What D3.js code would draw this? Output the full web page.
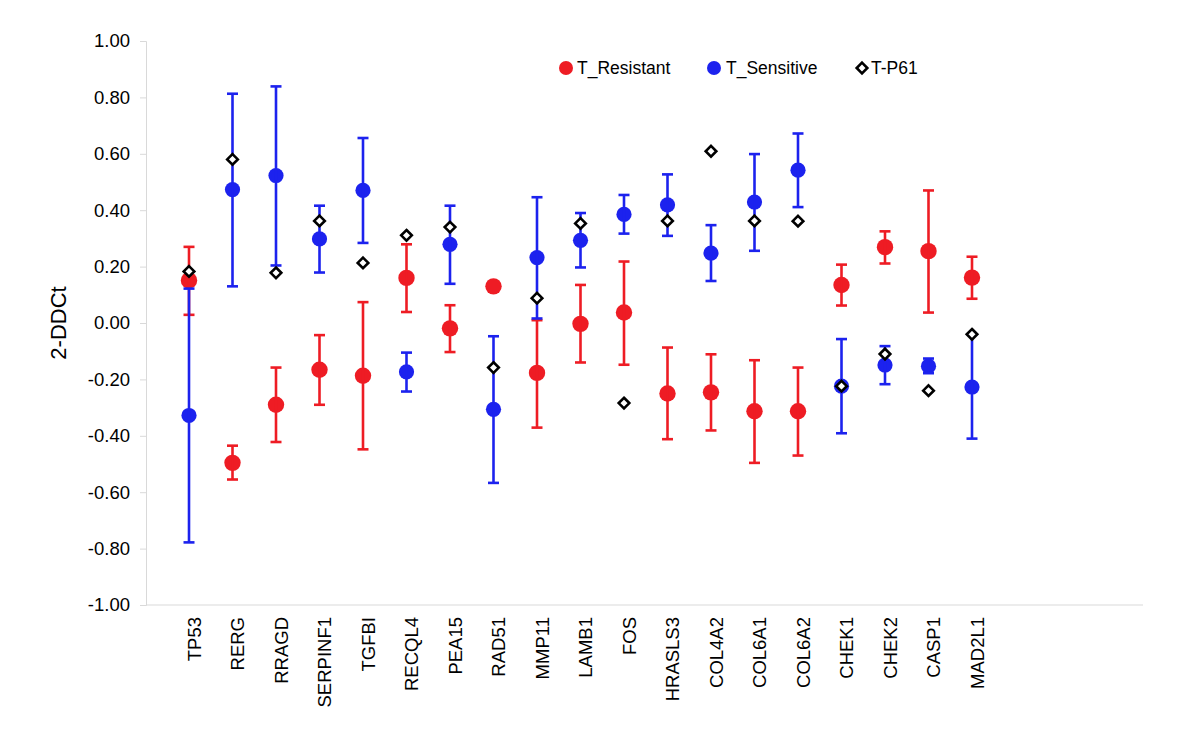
<!DOCTYPE html>
<html>
<head>
<meta charset="utf-8">
<script src="https://cdn.jsdelivr.net/npm/d3@7"></script>
<style>
  html, body { margin: 0; padding: 0; background: #ffffff; }
  svg { display: block; font-family: "Liberation Sans", Arial, Helvetica, sans-serif; }
</style>
</head>
<body>
<svg id="chart" width="1200" height="750"></svg>
<script>
const categories = ["TP53","RERG","RRAGD","SERPINF1","TGFBI","RECQL4","PEA15","RAD51","MMP11","LAMB1","FOS","HRASLS3","COL4A2","COL6A1","COL6A2","CHEK1","CHEK2","CASP1","MAD2L1"];

// T_Resistant: mean, upper and lower ends of error bars
const resistant     = [0.151,-0.496,-0.290,-0.166,-0.187,0.160,-0.019,0.130,-0.177,-0.003,0.037,-0.250,-0.246,-0.313,-0.313,0.135,0.269,0.255,0.161];
const resistantHigh = [0.270,-0.435,-0.158,-0.043,0.074,0.279,0.063,null,0.010,0.135,0.218,-0.087,-0.111,-0.132,-0.158,0.207,0.325,0.470,0.235];
const resistantLow  = [0.029,-0.555,-0.422,-0.290,-0.448,0.039,-0.103,null,-0.371,-0.140,-0.148,-0.412,-0.381,-0.496,-0.470,0.062,0.211,0.037,0.086];

// T_Sensitive: mean, upper and lower ends of error bars
const sensitive     = [-0.328,0.473,0.523,0.298,0.470,-0.173,0.279,-0.306,0.232,0.293,0.385,0.419,0.248,0.429,0.542,-0.224,-0.149,-0.153,-0.227];
const sensitiveHigh = [0.122,0.813,0.839,0.416,0.656,-0.105,0.416,-0.047,0.446,0.390,0.454,0.527,0.347,0.599,0.672,-0.057,-0.082,-0.126,-0.040];
const sensitiveLow  = [-0.778,0.130,0.204,0.179,0.284,-0.243,0.139,-0.567,0.016,0.197,0.317,0.309,0.149,0.256,0.411,-0.391,-0.217,-0.178,-0.410];

// T-P61
const p61 = [0.183,0.580,0.178,0.362,0.213,0.311,0.340,-0.158,0.088,0.353,-0.284,0.362,0.609,0.362,0.361,-0.224,-0.110,-0.240,-0.040];

const yTicks = [-1,-0.8,-0.6,-0.4,-0.2,0,0.2,0.4,0.6,0.8,1];
const seriesNames = ["T_Resistant","T_Sensitive","T-P61"];
const yTitle = "2-DDCt";

const RED = "#ee1c24", BLUE = "#1c22ee";

const svg = d3.select("#chart");
const plot = { left: 146, right: 1143, top: 41, bottom: 605 };

const y = d3.scaleLinear().domain([-1, 1]).range([plot.bottom, plot.top]);
const x = d3.scalePoint().domain(categories).range([189, 972]);

const locale = d3.formatLocale({ decimal: ".", thousands: ",", grouping: [3], currency: ["", ""], minus: "-" });
const fmt = locale.format(".2f");

// Y axis
const yAxis = d3.axisLeft(y).tickValues(yTicks).tickFormat(fmt).tickSize(6).tickPadding(10);
const gy = svg.append("g").attr("transform", `translate(${plot.left},0)`).call(yAxis);
gy.select(".domain").attr("stroke", "#d9d9d9").attr("stroke-width", 1);
gy.selectAll(".tick line").attr("stroke", "#d9d9d9");
gy.selectAll(".tick text").attr("fill", "#000").style("font-size", "18.5px").style("font-family", "'Liberation Sans', Arial, sans-serif");

// X axis baseline
svg.append("line")
  .attr("x1", plot.left).attr("x2", plot.right)
  .attr("y1", plot.bottom).attr("y2", plot.bottom)
  .attr("stroke", "#d9d9d9").attr("stroke-width", 1);

// X labels
const xAxis = d3.axisBottom(x).tickSize(0).tickPadding(0);
const gx = svg.append("g").attr("transform", `translate(0,${plot.bottom})`).call(xAxis);
gx.select(".domain").remove();
gx.selectAll(".tick text")
  .attr("fill", "#000")
  .style("font-size", "18.5px")
  .style("font-family", "'Liberation Sans', Arial, sans-serif")
  .attr("text-anchor", "end")
  .attr("dy", "0.35em")
  .attr("transform", "translate(5,12) rotate(-90)")
  .attr("x", 0).attr("y", 0);

// Y title
svg.append("text")
  .attr("transform", `translate(66,${y(0)}) rotate(-90)`)
  .attr("text-anchor", "middle")
  .style("font-size", "22px")
  .text(yTitle);

// Error bars helper
function errorBars(means, hi, lo, color) {
  const g = svg.append("g").attr("stroke", color).attr("stroke-width", 2.6).attr("fill", "none");
  categories.forEach((c, i) => {
    if (hi[i] == null || lo[i] == null) return;
    const cx = x(c);
    g.append("line").attr("x1", cx).attr("x2", cx).attr("y1", y(hi[i])).attr("y2", y(lo[i]));
    g.append("line").attr("x1", cx - 5.5).attr("x2", cx + 5.5).attr("y1", y(hi[i])).attr("y2", y(hi[i]));
    g.append("line").attr("x1", cx - 5.5).attr("x2", cx + 5.5).attr("y1", y(lo[i])).attr("y2", y(lo[i]));
  });
}

// Dots
svg.append("g").selectAll("circle").data(resistant).join("circle")
  .attr("cx", (d, i) => x(categories[i])).attr("cy", d => y(d)).attr("r", 8.2).attr("fill", RED);
svg.append("g").selectAll("circle").data(sensitive).join("circle")
  .attr("cx", (d, i) => x(categories[i])).attr("cy", d => y(d)).attr("r", 7.6).attr("fill", BLUE);

errorBars(resistant, resistantHigh, resistantLow, RED);
errorBars(sensitive, sensitiveHigh, sensitiveLow, BLUE);

// Diamonds
const diamond = d3.symbol().type(d3.symbolDiamond2).size(72);
svg.append("g").selectAll("path").data(p61).join("path")
  .attr("d", diamond)
  .attr("transform", (d, i) => `translate(${x(categories[i])},${y(d)})`)
  .attr("fill", "#fff").attr("stroke", "#000").attr("stroke-width", 2.6);

// Legend
const legend = svg.append("g").style("font-size", "17.5px");
const legendItems = [
  { name: seriesNames[0], kind: "circle", color: RED, mx: 566, tx: 577 },
  { name: seriesNames[1], kind: "circle", color: BLUE, mx: 714, tx: 726 },
  { name: seriesNames[2], kind: "diamond", color: "#000", mx: 862, tx: 871 }
];
legendItems.forEach(it => {
  if (it.kind === "circle") {
    legend.append("circle").attr("cx", it.mx).attr("cy", 68).attr("r", 7).attr("fill", it.color);
  } else {
    legend.append("path").attr("d", diamond)
      .attr("transform", `translate(${it.mx},68)`)
      .attr("fill", "#fff").attr("stroke", "#000").attr("stroke-width", 2.6);
  }
  legend.append("text").attr("x", it.tx).attr("y", 68).attr("dy", "0.35em").text(it.name);
});
</script>
</body>
</html>
